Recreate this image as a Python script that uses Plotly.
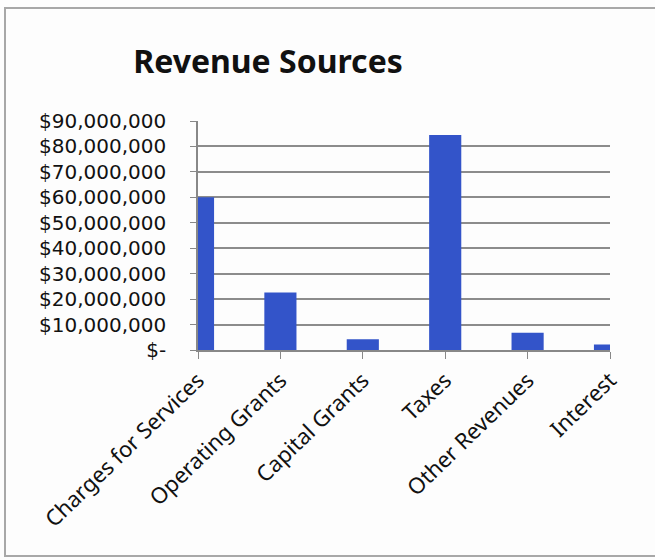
import plotly.graph_objects as go

# Revenue by source (dollars)
categories = ["Charges for Services", "Operating Grants", "Capital Grants",
              "Taxes", "Other Revenues", "Interest"]
revenues = [60_000_000, 22_600_000, 4_200_000, 84_500_000, 6_800_000, 2_200_000]

y_tick_values = [0, 10_000_000, 20_000_000, 30_000_000, 40_000_000,
                 50_000_000, 60_000_000, 70_000_000, 80_000_000, 90_000_000]
y_tick_labels = ["$-", "$10,000,000", "$20,000,000", "$30,000,000", "$40,000,000",
                 "$50,000,000", "$60,000,000", "$70,000,000", "$80,000,000",
                 "$90,000,000"]

W, H = 655, 560
ML, MR, MT, MB = 198, 45, 121, 210
plot_w = W - ML - MR
plot_h = H - MT - MB

positions = list(range(len(categories)))

fig = go.Figure(
    go.Bar(
        x=positions,
        y=revenues,
        width=0.39,
        marker=dict(color="#3354c9", line=dict(width=0)),
        hovertext=categories,
    )
)

fig.update_layout(
    width=W,
    height=H,
    margin=dict(l=ML, r=MR, t=MT, b=MB, pad=0),
    paper_bgcolor="#fdfdfd",
    plot_bgcolor="#fdfdfd",
    showlegend=False,
    title=dict(
        text="<b>Revenue Sources</b>",
        x=268 / W,
        xanchor="center",
        xref="container",
        y=1 - 62 / H,
        yanchor="middle",
        yref="container",
        font=dict(family="Noto Sans", size=32, color="#111111"),
    ),
    font=dict(family="Noto Sans", color="#111111"),
)

fig.update_xaxes(
    range=[0, len(categories) - 1],
    tickmode="array",
    tickvals=positions,
    ticktext=categories,
    tickangle=-44,
    tickfont=dict(family="Noto Sans", size=22, color="#111111"),
    ticks="outside",
    ticklen=7,
    tickcolor="#888888",
    showline=True,
    linecolor="#888888",
    linewidth=1.5,
    showgrid=False,
    zeroline=False,
)

fig.update_yaxes(
    range=[0, 90_000_000],
    tickmode="array",
    tickvals=y_tick_values,
    ticktext=y_tick_labels,
    tickfont=dict(family="DejaVu Sans", size=20, color="#111111"),
    ticks="outside",
    ticklen=6,
    tickcolor="#888888",
    ticklabelstandoff=20,
    showline=True,
    linecolor="#888888",
    linewidth=1.5,
    showgrid=True,
    gridcolor="#8c8c8c",
    gridwidth=1.5,
    zeroline=False,
)

# Chart frame around the whole graphic
def px_to_paper_x(px):
    return (px - ML) / plot_w

def px_to_paper_y(py):
    return (H - MB - py) / plot_h

fig.add_shape(
    type="rect",
    xref="paper", yref="paper",
    x0=px_to_paper_x(5), x1=px_to_paper_x(W + 60),
    y0=px_to_paper_y(556), y1=px_to_paper_y(8),
    line=dict(color="#a8a8a8", width=2),
    fillcolor="rgba(0,0,0,0)",
    layer="below",
)

fig.write_html("out.html")
